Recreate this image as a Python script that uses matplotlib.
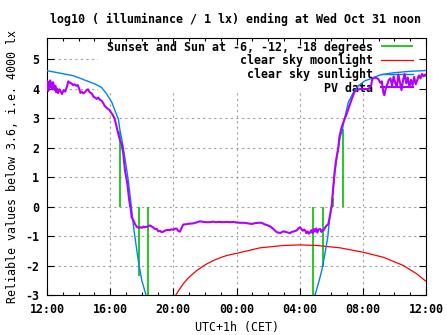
import numpy as np
import matplotlib
matplotlib.use("Agg")
import matplotlib.pyplot as plt
from matplotlib.patches import Rectangle

# x axis is hours after Tuesday noon (12:00 .. next 12:00, UTC+1h)
hour_ticks = [0, 4, 8, 12, 16, 20, 24]
hour_labels = ["12:00", "16:00", "20:00", "00:00", "04:00", "08:00", "12:00"]
y_ticks = [-3, -2, -1, 0, 1, 2, 3, 4, 5]
y_labels = ["-3", "-2", "-1", "0", "1", "2", "3", "4", "5"]

# sunset / sunrise and sun at -6, -12, -18 degrees (line from 0 to sunlight level)
sun_events = [4.64, 5.26, 5.85, 6.42, 16.87, 17.5, 18.1, 18.72]
sun_event_ends = [2.55, 0.2, -2.35, -3.3, -3.3, -2.05, 0.3, 2.63]

# clear sky sunlight (gap while far below the axis)
sun_h = [0, 0.61, 1.67, 2.5, 3.04, 3.46, 3.78, 4.1, 4.31, 4.52, 4.62, 4.73, 4.83,
         4.9, 5.0, 5.15, 5.3, 5.43, 5.57, 5.78, 6.0, 6.27, 6.5,
         np.nan,
         16.8, 16.97, 17.18, 17.4, 17.6, 17.78, 17.88, 18.03, 18.13, 18.24, 18.39,
         18.56, 18.7, 18.8, 18.9, 19.08, 19.4, 19.72, 20.14, 20.56, 21.1, 21.93,
         22.99, 23.8, 24.0]
sun_val = [4.61, 4.55, 4.44, 4.27, 4.16, 4.04, 3.82, 3.54, 3.25, 2.97, 2.6, 2.3, 2.0,
           1.75, 1.42, 0.88, 0.2, -0.47, -1.04, -1.83, -2.5, -3.0, -3.5,
           np.nan,
           -3.5, -3.0, -2.62, -2.17, -1.6, -1.04, -0.47, 0.09, 0.65, 1.22, 1.79,
           2.35, 2.6, 2.9, 3.12, 3.54, 3.87, 4.1, 4.27, 4.35, 4.47, 4.54,
           4.59, 4.61, 4.62]

# clear sky moonlight
moon_h = [8.1, 8.3, 8.45, 8.63, 8.9, 9.2, 9.48, 10.0, 10.53, 11.0, 11.38, 12.22,
          13.49, 14.97, 16.0, 17.08, 18.56, 20.03, 21.3, 22.57, 23.41, 23.94, 24.0]
moon_val = [-3.05, -2.88, -2.76, -2.62, -2.45, -2.3, -2.17, -1.98, -1.83, -1.73, -1.66, -1.56,
            -1.40, -1.32, -1.30, -1.32, -1.40, -1.55, -1.72, -2.0, -2.28, -2.51, -2.53]

# PV sensor data
pv_h = [0.00, 0.04, 0.08, 0.12, 0.16, 0.20, 0.24, 0.28, 0.33, 0.38, 0.43, 0.48, 0.53,
        0.58, 0.63, 0.70, 0.78, 0.85, 0.95, 1.05, 1.15, 1.25, 1.35, 1.45, 1.55, 1.65,
        1.75, 1.85, 1.95, 2.05, 2.12, 2.2, 2.3, 2.4, 2.5, 2.6, 2.7, 2.8, 2.9, 2.95,
        3.05, 3.15, 3.25, 3.35, 3.45, 3.55, 3.65, 3.75, 3.85, 3.95, 4.05, 4.15, 4.25,
        4.31, 4.4, 4.52, 4.62, 4.73, 4.83, 4.94, 5.09, 5.21, 5.32, 5.36, 5.47, 5.58,
        5.68, 5.8, 5.9, 6.0, 6.1, 6.2, 6.35, 6.52, 6.7, 6.84, 6.95, 7.05, 7.16, 7.26,
        7.4, 7.58, 7.75, 7.9, 8.0, 8.1, 8.21, 8.3, 8.42, 8.5, 8.63, 8.8, 9.0, 9.27,
        9.5, 9.69, 9.9, 10.1, 10.32, 10.5, 10.7, 10.9, 11.1, 11.38, 11.6, 11.8, 12.0,
        12.22, 12.5, 12.75, 12.96, 13.2, 13.4, 13.6, 13.81, 13.95, 14.12, 14.25, 14.33,
        14.45, 14.55, 14.65, 14.76, 14.87, 14.97, 15.1, 15.25, 15.39, 15.5, 15.65,
        15.81, 15.92, 16.02, 16.1, 16.2, 16.28, 16.34, 16.42, 16.5, 16.58, 16.66,
        16.75, 16.82, 16.9, 16.97, 17.05, 17.12, 17.2, 17.3, 17.38, 17.45, 17.5, 17.6,
        17.71, 17.82, 17.92, 18.03, 18.13, 18.2, 18.3, 18.45, 18.51, 18.66, 18.81,
        18.95, 19.08, 19.3, 19.5, 19.82, 20.1, 20.35, 20.52, 20.6, 20.77, 20.98, 21.1,
        21.2, 21.3, 21.36, 21.45, 21.55, 21.65, 21.75, 21.85, 21.95, 22.05, 22.15,
        22.25, 22.35, 22.45, 22.55, 22.65, 22.75, 22.85, 22.95, 23.05, 23.15, 23.25,
        23.35, 23.45, 23.55, 23.65, 23.75, 23.85, 23.95, 24.0]
pv_val = [4.05, 4.25, 3.92, 4.18, 4.02, 4.28, 4.08, 4.2, 3.98, 4.22, 4.12, 3.95, 4.1,
          3.88, 4.0, 3.85, 3.98, 3.92, 3.82, 3.95, 3.9, 4.05, 4.25, 4.2, 4.18, 4.12,
          4.15, 4.1, 4.12, 3.98, 3.86, 3.9, 3.84, 3.88, 3.95, 3.98, 3.88, 3.85, 3.78, 3.72,
          3.7, 3.65, 3.7, 3.62, 3.6, 3.52, 3.42, 3.36, 3.32, 3.28, 3.2, 3.12, 3.02,
          2.92, 2.72, 2.46, 2.25, 2.12, 1.79, 1.22, 0.77, 0.2, -0.14, -0.36, -0.47, -0.6,
          -0.68, -0.72, -0.7, -0.72, -0.68, -0.7, -0.68, -0.64, -0.7, -0.76, -0.76, -0.84, -0.82, -0.87,
          -0.84, -0.79, -0.8, -0.77, -0.79, -0.75, -0.75, -0.82, -0.85, -0.75, -0.61, -0.6, -0.58, -0.57,
          -0.53, -0.5, -0.52, -0.53, -0.53, -0.51, -0.53, -0.52, -0.53, -0.52, -0.53, -0.52, -0.54,
          -0.55, -0.55, -0.57, -0.59, -0.56, -0.55, -0.55, -0.61, -0.63, -0.67, -0.72, -0.76,
          -0.82, -0.87, -0.88, -0.9, -0.87, -0.84, -0.86, -0.88, -0.9, -0.86, -0.84,
          -0.81, -0.74, -0.7, -0.76, -0.82, -0.78, -0.81, -0.9, -0.84, -0.92, -0.87,
          -0.8, -0.9, -0.76, -0.85, -0.74, -0.88, -0.78, -0.76, -0.86, -0.8, -0.81, -0.72,
          -0.64, -0.59, -0.3, 0.03, 0.65, 1.11, 1.56, 2.01, 2.35, 2.69, 2.92,
          3.1, 3.31, 3.65, 3.93, 3.99, 3.99, 3.99, 4.1, 4.33, 4.38, 4.33, 4.2,
          4.25, 3.87, 3.78, 4.0, 4.15, 4.3, 4.35, 4.1, 4.42, 4.2, 4.05,
          4.48, 4.22, 3.95, 4.3, 4.5, 4.18, 4.38, 4.05, 4.3, 4.12, 4.4,
          4.15, 4.3, 4.45, 4.35, 4.5, 4.42, 4.48, 4.45]

plt.rcParams['font.family'] = 'DejaVu Sans Mono'
plt.rcParams['font.weight'] = 'bold'
plt.rcParams['font.size'] = 8.4

fig = plt.figure(figsize=(4.47, 3.35), dpi=100)
ax = fig.add_axes([47 / 447, 1 - 295 / 335, 379 / 447, 257 / 335])

ax.set_xlim(0, 24)
ax.set_ylim(-3, 5.72)

# dotted grid, then a white patch behind the key that hides it
grid_style = dict(color='#a0a0a0', lw=0.8, ls=(0, (2, 3)), zorder=0.5)
for t in hour_ticks[1:-1]:
    ax.axvline(t, **grid_style)
for v in y_ticks[1:]:
    ax.axhline(v, **grid_style)
ax.add_patch(Rectangle((0.1346, 0.786), 0.8654, 0.214, transform=ax.transAxes,
                       facecolor='white', edgecolor='none', zorder=0.7))

ax.vlines(sun_events, 0, sun_event_ends, color='#00c000', lw=1.2, zorder=3,
          label='Sunset and Sun at -6, -12, -18 degrees')
ax.plot(moon_h, moon_val, color='#ff0000', lw=0.9, zorder=3, label='clear sky moonlight')
ax.plot(sun_h, sun_val, color='#0080ff', lw=1.0, zorder=3, label='clear sky sunlight')
ax.plot(pv_h, pv_val, color='#b000ff', lw=1.5, zorder=3, label='PV data')

ax.set_xticks(hour_ticks, hour_labels)
ax.set_xticks(range(25), minor=True)
ax.set_yticks(y_ticks, y_labels)
ax.tick_params(which='both', direction='in', top=True, right=True, width=0.8)
ax.tick_params(which='major', length=5)
ax.tick_params(which='minor', length=2.5)
ax.tick_params(axis='x', pad=6)
ax.tick_params(axis='y', pad=5.5)
for s in ax.spines.values():
    s.set_linewidth(0.8)

leg = ax.legend(loc='upper right', bbox_to_anchor=(0.965, 0.99), frameon=False,
                markerfirst=False, handlelength=2.74, handletextpad=0.69,
                labelspacing=0.05, borderpad=0, borderaxespad=0)
leg.set_zorder(2.6)

fig.text(235.5 / 447, 1 - 19 / 335, 'log10 ( illuminance / 1 lx) ending at Wed Oct 31 noon',
         ha='center', va='center')
ax.set_xlabel('UTC+1h (CET)', va='center')
ax.xaxis.set_label_coords(0.5, -(327 - 295) / 257)
ax.set_ylabel('Reliable values below 3.6, i.e. 4000 lx', va='center')
ax.yaxis.set_label_coords(-(47 - 12.5) / 379, 0.5)

fig.savefig('out.png', dpi=100)
